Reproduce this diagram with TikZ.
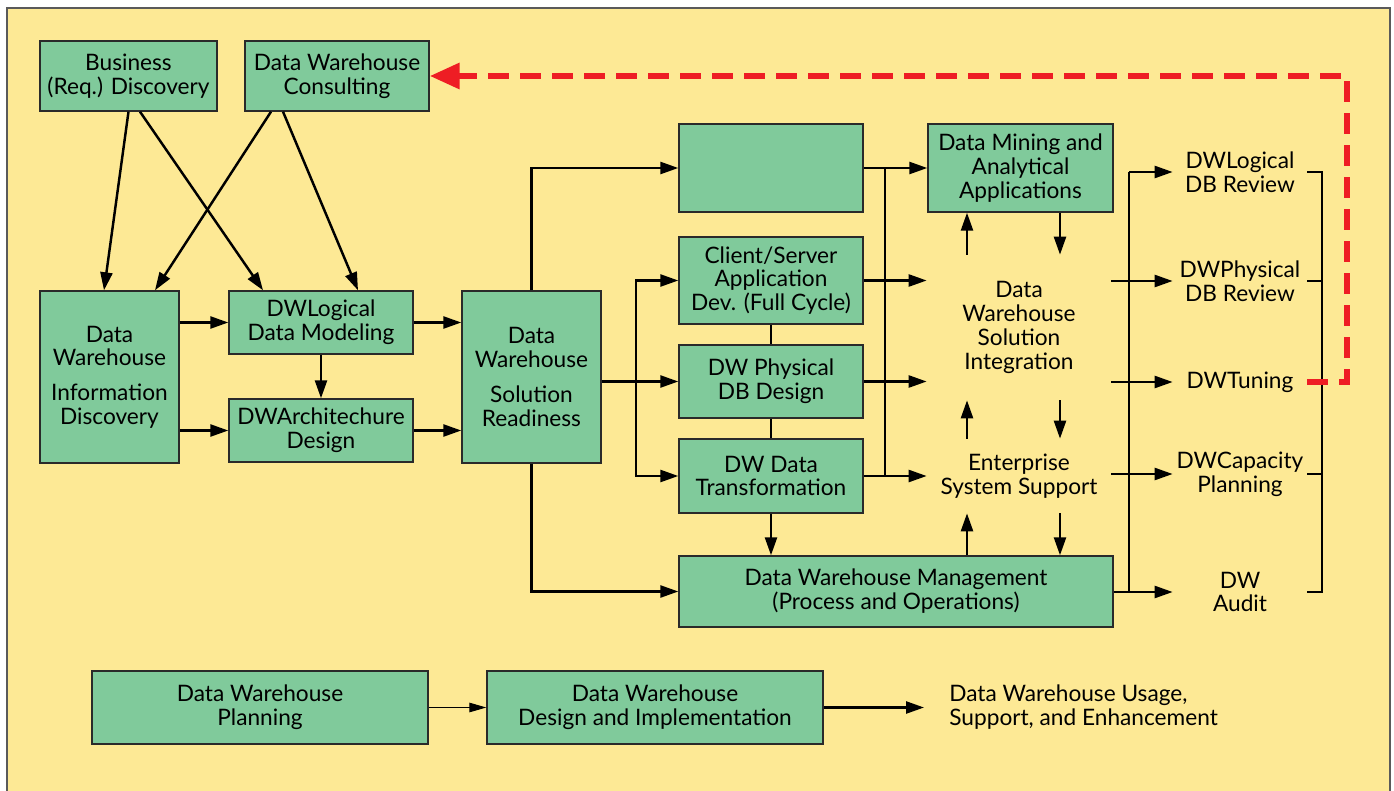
\documentclass[tikz,border=0pt]{standalone}
\usepackage{fontspec}
\setmainfont{Lato}
\usepackage{tikz}
\usetikzlibrary{arrows.meta}
\definecolor{paper}{HTML}{FDE995}
\definecolor{leaf}{HTML}{80CA9B}
\definecolor{edge}{HTML}{2A2A2A}
\definecolor{frame}{HTML}{5A5A5A}
\definecolor{alarm}{HTML}{EE1D24}
\newcommand{\dwfont}{\fontsize{12.9}{13.6}\selectfont}
\tikzset{
  box/.style={draw=edge,fill=leaf,line width=0.8pt,align=center,inner sep=2pt,text=black,font=\dwfont},
  lbl/.style={align=center,inner sep=0pt,text=black,font=\dwfont},
  wire/.style={line width=1.4pt,color=black},
  arrow/.style={wire,-{Triangle[length=3.6mm,width=2.4mm]}},
  thinarrow/.style={line width=0.6pt,-{Triangle[length=3.4mm,width=1.9mm]}},
  feedback/.style={alarm,line width=3.6pt,dash pattern=on 0.42cm off 0.22cm,-{Triangle[length=6mm,width=5mm]}},
}
\begin{document}
\begin{tikzpicture}[x=0.02cm,y=-0.02cm]
  \useasboundingbox (0,0) rectangle (1394,791);
  \fill[white] (0,0) rectangle (1394,791);
  \draw[frame,line width=1.2pt,fill=paper] (7,8) rectangle (1390,800);

  % requirements
  \node[box,minimum width=3.54cm,minimum height=1.4cm] (biz) at (128.5,76) {Business\\(Req.) Discovery};
  \node[box,minimum width=3.68cm,minimum height=1.4cm] (consult) at (337,76) {Data Warehouse\\Consulting};

  % design
  \node[box,minimum width=2.78cm,minimum height=3.44cm] (infodisc) at (109.5,377) {Data\\Warehouse\\[6pt]Information\\Discovery};
  \node[box,minimum width=3.68cm,minimum height=1.26cm] (logical) at (321,322.5) {DWLogical\\Data Modeling};
  \node[box,minimum width=3.68cm,minimum height=1.26cm] (arch) at (321,430.5) {DWArchitechure\\Design};
  \node[box,minimum width=2.78cm,minimum height=3.44cm] (ready) at (531.5,377) {Data\\Warehouse\\[6pt]Solution\\Readiness};

  % implementation
  \node[box,minimum width=3.68cm,minimum height=1.76cm] (blank) at (771,168) {};
  \node[box,minimum width=3.68cm,minimum height=1.74cm] (client) at (771,280.5) {Client/Server\\Application\\Dev. (Full Cycle)};
  \node[box,minimum width=3.68cm,minimum height=1.46cm] (physdb) at (771,381.5) {DW Physical\\DB Design};
  \node[box,minimum width=3.68cm,minimum height=1.48cm] (transf) at (771,476) {DW Data\\Transformation};
  \node[box,minimum width=8.68cm,minimum height=1.42cm] (mgmt) at (896,591.5) {Data Warehouse Management\\(Process and Operations)};

  \node[box,minimum width=3.7cm,minimum height=1.76cm] (mining) at (1020.5,168) {Data Mining and\\Analytical\\Applications};
  \node[lbl,minimum width=3.68cm,minimum height=2.9cm] (integ) at (1019,327.5) {Data\\Warehouse\\Solution\\Integration};
  \node[lbl,minimum width=3.68cm,minimum height=1.48cm] (enterp) at (1019,476) {Enterprise\\System Support};

  % usage and support
  \node[lbl,minimum width=2.68cm] (rlog) at (1240,172) {DWLogical\\DB Review};
  \node[lbl,minimum width=2.68cm] (rphys) at (1240,281) {DWPhysical\\DB Review};
  \node[lbl,minimum width=2.68cm] (rtune) at (1240,382) {DWTuning};
  \node[lbl,minimum width=2.68cm] (rcap) at (1240,474) {DWCapacity\\Planning};
  \node[lbl,minimum width=2.68cm] (raudit) at (1240,592) {DW\\Audit};

  % legend
  \node[box,minimum width=6.72cm,minimum height=1.46cm] (plan) at (260,707.5) {Data Warehouse\\Planning};
  \node[box,minimum width=6.72cm,minimum height=1.46cm] (design) at (655,707.5) {Data Warehouse\\Design and Implementation};
  \node[lbl,anchor=west,align=left,inner xsep=0.5cm] (usage) at (924,707) {Data Warehouse Usage,\\Support, and Enhancement};

  \coordinate (fork) at (636,0);
  \coordinate (busa) at (885,0);
  \coordinate (upcol) at (967,0);
  \coordinate (dncol) at (1060,0);
  \coordinate (busb) at (1129,0);
  \coordinate (brk) at (1322,0);
  \coordinate (loopx) at (1347,0);

  \draw[arrow] (biz.south) -- ([xshift=-0.11cm]infodisc.north);
  \draw[arrow] ([xshift=0.23cm]biz.south) -- ([xshift=-1.16cm]logical.north);
  \draw[arrow] ([xshift=-1.32cm]consult.south) -- ([xshift=0.91cm]infodisc.north);
  \draw[arrow] ([xshift=-1.08cm]consult.south) -- ([xshift=0.74cm]logical.north);

  \draw[arrow] (infodisc.east |- logical.west) -- (logical.west);
  \draw[arrow] (infodisc.east |- arch.west) -- (arch.west);
  \draw[arrow] (logical.south) -- (arch.north);
  \draw[arrow] (logical.east) -- (logical.east -| ready.west);
  \draw[arrow] (arch.east) -- (arch.east -| ready.west);

  \draw[arrow] (ready.north) |- (blank.west);
  \draw[arrow] (ready.south) |- (mgmt.west);
  \draw[arrow] (ready.east |- physdb.west) -- (physdb.west);
  \draw[arrow] (fork |- physdb.west) |- (client.west);
  \draw[arrow] (fork |- physdb.west) |- (transf.west);
  \draw[wire] (client.south) -- (physdb.north);
  \draw[wire] (physdb.south) -- (transf.north);
  \draw[arrow] (transf.south) -- (transf.south |- mgmt.north);

  \draw[wire] (busa |- blank.east) -- (busa |- transf.east);
  \draw[arrow] (blank.east) -- (mining.west);
  \draw[arrow] (client.east) -- (client.east -| integ.west);
  \draw[arrow] (physdb.east) -- (physdb.east -| integ.west);
  \draw[arrow] (transf.east) -- (transf.east -| enterp.west);

  \draw[arrow] (integ.north -| upcol) -- (mining.south -| upcol);
  \draw[arrow] (mining.south -| dncol) -- (integ.north -| dncol);
  \draw[arrow] (enterp.north -| upcol) -- (integ.south -| upcol);
  \draw[arrow] (integ.south -| dncol) -- (enterp.north -| dncol);
  \draw[arrow] (mgmt.north -| upcol) -- (enterp.south -| upcol);
  \draw[arrow] (enterp.south -| dncol) -- (mgmt.north -| dncol);

  \draw[wire] (busb |- rlog.west) -- (busb |- raudit.west);
  \draw[arrow] (busb |- rlog.west) -- (rlog.west);
  \draw[arrow] (integ.east |- rphys.west) -- (rphys.west);
  \draw[arrow] (integ.east |- rtune.west) -- (rtune.west);
  \draw[arrow] (enterp.east |- rcap.west) -- (rcap.west);
  \draw[arrow] (mgmt.east |- raudit.west) -- (raudit.west);

  \draw[wire] (rlog.east) -| (brk |- raudit.east) -- (raudit.east);
  \draw[wire] (rphys.east) -- (brk |- rphys.east);
  \draw[wire] (rtune.east) -- (brk |- rtune.east);
  \draw[wire] (rcap.east) -- (brk |- rcap.east);

  \draw[feedback] (rtune.east) -- (rtune.east -| loopx) -- (loopx |- consult.east) -- (consult.east);

  \draw[thinarrow] (plan.east) -- (design.west);
  \draw[arrow] (design.east) -- (design.east -| usage.west);
\end{tikzpicture}
\end{document}
